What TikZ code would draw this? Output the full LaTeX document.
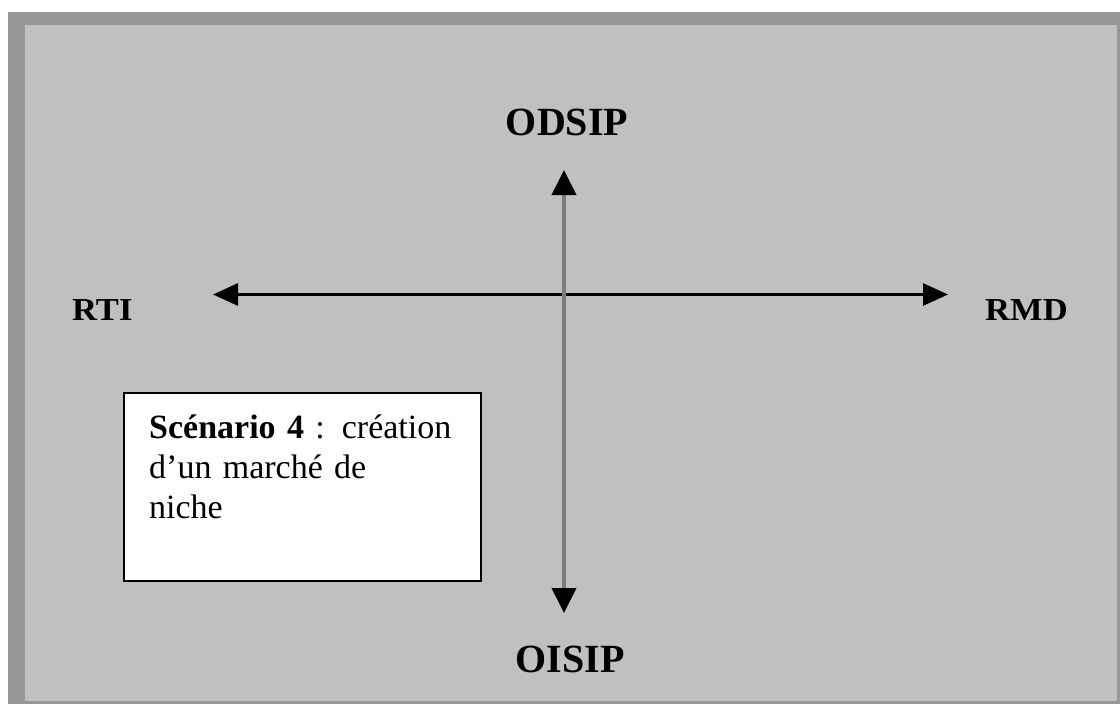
\documentclass[tikz,border=0pt]{standalone}
\usepackage{fontspec}
\setmainfont{Liberation Serif}
\usetikzlibrary{arrows.meta}
\definecolor{framegray}{HTML}{979797}
\definecolor{panelgray}{HTML}{C0C0C0}
\definecolor{vlinegray}{HTML}{7C7C7C}
\begin{document}
\begin{tikzpicture}[x=1pt,y=-1pt,
  biglabel/.style={inner sep=0pt, anchor=base, font=\fontsize{40}{40}\selectfont\bfseries},
  sidelabel/.style={inner sep=0pt, anchor=base west, xscale=1.08, font=\fontsize{32}{32}\selectfont\bfseries},
  vaxis/.style={draw=vlinegray, line width=4pt,
    {Triangle[length=25pt,width=24pt,color=black]}-{Triangle[length=25pt,width=24pt,color=black]}},
  haxis/.style={draw=black, line width=3pt,
    {Triangle[length=25pt,width=22pt,color=black]}-{Triangle[length=25pt,width=22pt,color=black]}},
  scenbox/.style={draw=black, line width=2pt, fill=white, inner sep=0pt, anchor=north west}
]
\useasboundingbox (0,0) rectangle (1120,704);
\fill[white] (0,0) rectangle (1120,704);
\fill[framegray] (8,12) rectangle (1120,704);
\fill[panelgray] (25,25) rectangle (1117,701);

\node[biglabel] (odsip) at (567,135) {ODSIP};
\node[biglabel] (oisip) at (570,672) {OISIP};
\node[sidelabel] (rti) at (72,320) {RTI};
\node[sidelabel] (rmd) at (985,320) {RMD};

\coordinate (vtop) at (564,170);
\coordinate (vbot) at (564,613);
\coordinate (hleft) at (213,294.5);
\coordinate (hright) at (948,294.5);

\draw[haxis] (hleft) -- (hright);
\draw[vaxis] (vtop) -- (vbot);

\node[scenbox, minimum width=357pt, minimum height=188pt] (box) at (123,392) {};
\node[inner sep=0pt, anchor=base west, text width=320pt, align=left,
      font=\fontsize{34}{40}\selectfont] (boxtext) at (149,438)
  {\textbf{Scénario 4} : création\\d’un marché de\\niche};
\end{tikzpicture}
\end{document}
